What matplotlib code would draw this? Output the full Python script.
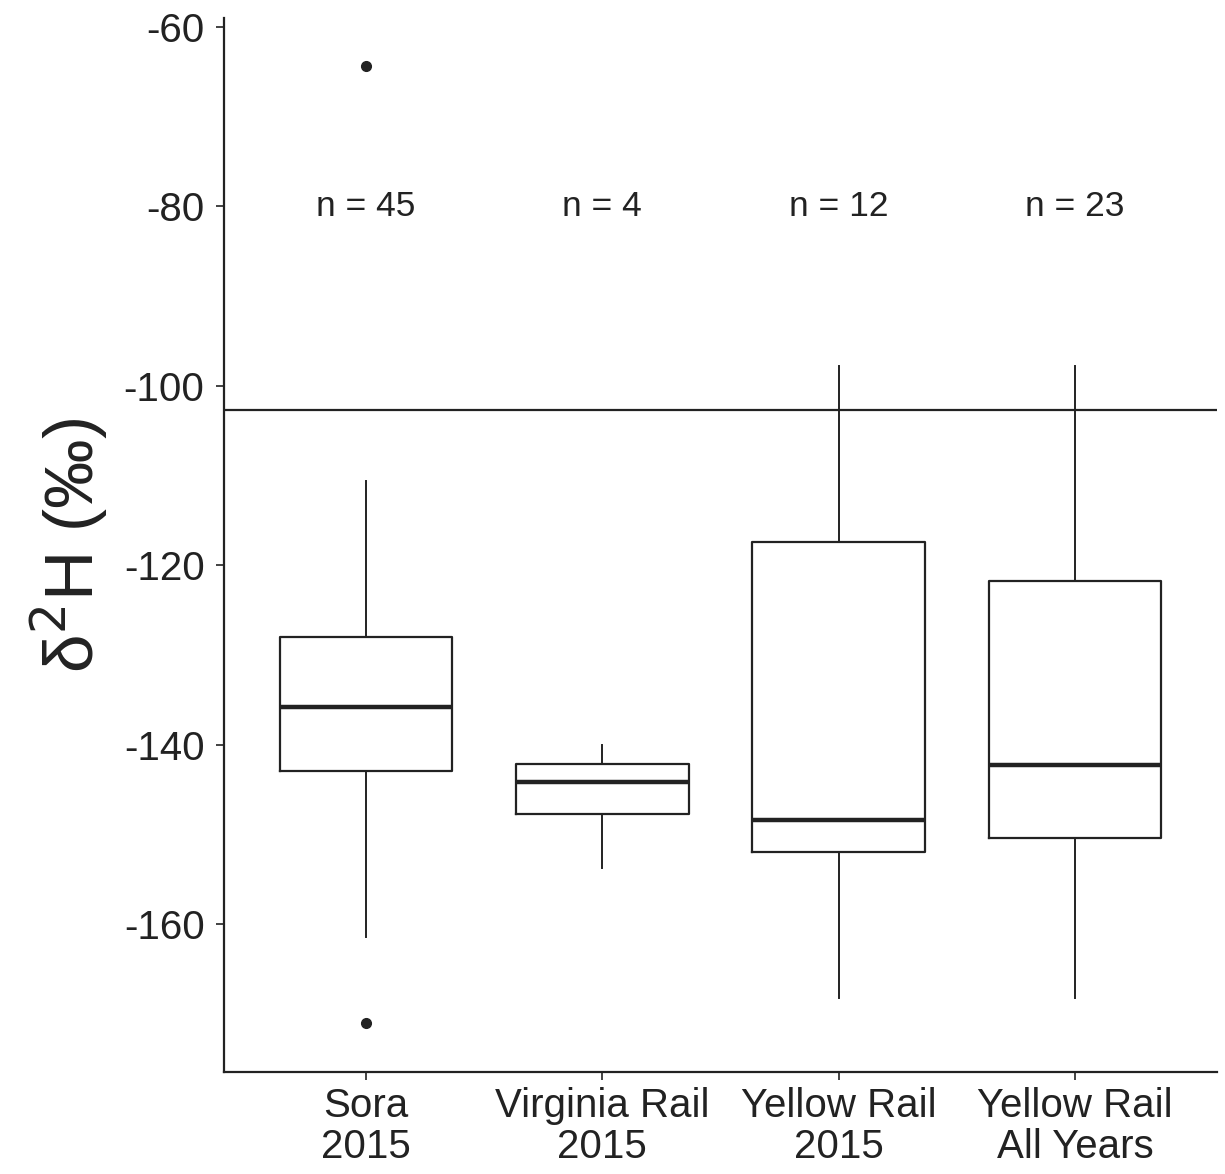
import matplotlib
matplotlib.use('Agg')
import matplotlib.pyplot as plt

plt.rcParams['font.family'] = ['Liberation Sans', 'DejaVu Sans']
plt.rcParams['axes.unicode_minus'] = False

# groups and box statistics
groups = ['Sora\n2015', 'Virginia Rail\n2015', 'Yellow Rail\n2015', 'Yellow Rail\nAll Years']
n_counts = [45, 4, 12, 23]
whislo = [-161.4, -153.8, -168.2, -168.2]
q1 = [-142.9, -147.7, -152.0, -150.4]
med = [-135.8, -144.2, -148.4, -142.3]
q3 = [-128.0, -142.2, -117.4, -121.8]
whishi = [-110.6, -140.0, -97.8, -97.8]
fliers = [[-64.3, -171.0], [], [], []]
ref_line = -102.7

stats = []
for i in range(len(groups)):
    stats.append({'whislo': whislo[i], 'q1': q1[i], 'med': med[i],
                  'q3': q3[i], 'whishi': whishi[i], 'fliers': fliers[i]})

fig = plt.figure(figsize=(12.25, 11.74), dpi=100)
ax = fig.add_axes([224 / 1225, 1 - 1072 / 1174, (1217 - 224) / 1225, (1072 - 18) / 1174])

pos = list(range(1, len(groups) + 1))
ax.bxp(stats, positions=pos, widths=0.73, showcaps=False,
       boxprops=dict(color='#222222', linewidth=1.6),
       whiskerprops=dict(color='#222222', linewidth=1.4),
       medianprops=dict(color='#222222', linewidth=3.2),
       flierprops=dict(marker='o', markerfacecolor='#222222',
                       markeredgecolor='#222222', markersize=7))

ax.axhline(ref_line, color='#222222', linewidth=1.6)

for x, n in zip(pos, n_counts):
    ax.text(x, -80, f'n = {n}', ha='center', va='center', fontsize=25.5, color='#222222')

ax.set_xlim(0.4, 4.6)
ax.set_ylim(-176.5, -59)
ax.set_yticks([-60, -80, -100, -120, -140, -160])
ax.set_xticks(pos)
ax.set_xticklabels(groups, fontsize=29, color='#222222', linespacing=1.1)
ax.tick_params(axis='y', labelsize=29, labelcolor='#222222', length=6, width=1.2, color='#222222', pad=8)
ax.tick_params(axis='x', length=6, width=1.2, color='#222222', pad=5)

ax.set_ylabel('δ$^2$H (‰)', fontsize=50, color='#222222', labelpad=10)

for s in ['top', 'right']:
    ax.spines[s].set_visible(False)
for s in ['left', 'bottom']:
    ax.spines[s].set_linewidth(1.6)
    ax.spines[s].set_color('#222222')

fig.savefig('out.png', dpi=100)
